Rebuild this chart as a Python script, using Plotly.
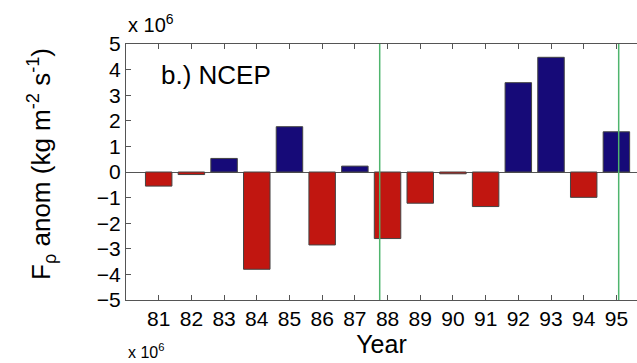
import plotly.graph_objects as go

years = list(range(81, 96))
values = [-0.55, -0.1, 0.53, -3.8, 1.77, -2.85, 0.23, -2.6, -1.22, -0.07, -1.35, 3.49, 4.48, -0.99, 1.57]
tick_labels = [str(y) for y in years]
event_lines = [87.76, 95.07]

BLUE = "#160a78"
RED = "#c11610"
colors = [BLUE if v > 0 else RED for v in values]

fig = go.Figure()
fig.add_trace(go.Bar(
    x=years, y=values, width=0.81,
    marker=dict(color=colors, line=dict(color="#444444", width=1)),
))

for xv in event_lines:
    fig.add_shape(type="line", x0=xv, x1=xv, y0=0, y1=1, xref="x", yref="paper",
                  line=dict(color="#4fb56e", width=1.5))

font = "Liberation Sans, Arial, Helvetica, sans-serif"
fig.update_layout(
    width=637, height=363,
    margin=dict(l=126, r=0, t=44, b=63),
    plot_bgcolor="white", paper_bgcolor="white",
    showlegend=False,
    font=dict(family=font, color="black"),
    xaxis=dict(
        range=[80, 95.63], tickvals=years, ticktext=tick_labels,
        ticks="inside", ticklen=5, tickcolor="#555", mirror="ticks",
        showline=True, linecolor="#555", linewidth=1,
        showgrid=False, zeroline=False,
        tickfont=dict(size=21, family=font),
        title=dict(text="Year", font=dict(size=25, family=font), standoff=6),
    ),
    yaxis=dict(
        range=[-5, 5], tickvals=list(range(-5, 6)),
        ticks="inside", ticklen=5, tickcolor="#555",
        showline=True, linecolor="#555", linewidth=1,
        showgrid=False, zeroline=True, zerolinecolor="#555", zerolinewidth=1,
        tickfont=dict(size=21, family=font),
    ),
    annotations=[
        dict(text="F<sub>ρ</sub> anom (kg m<sup>-2</sup> s<sup>-1</sup>)", textangle=-90,
             xref="paper", yref="paper", x=-0.165, y=0.53, xanchor="center", yanchor="middle",
             showarrow=False, font=dict(size=26, family=font)),
        dict(text="x 10<sup>6</sup>", xref="paper", yref="paper", x=0, y=1.0,
             xanchor="left", yanchor="bottom", yshift=6, showarrow=False,
             font=dict(size=20, family=font)),
        dict(text="b.) NCEP", xref="paper", yref="paper", x=0.065, y=0.88,
             xanchor="left", yanchor="middle", showarrow=False,
             font=dict(size=26, family=font)),
        dict(text="x 10<sup>6</sup>", xref="paper", yref="paper", x=0, y=-0.246,
             xanchor="left", yanchor="bottom", showarrow=False,
             font=dict(size=16, family=font)),
    ],
)

fig.write_html("out.html")
